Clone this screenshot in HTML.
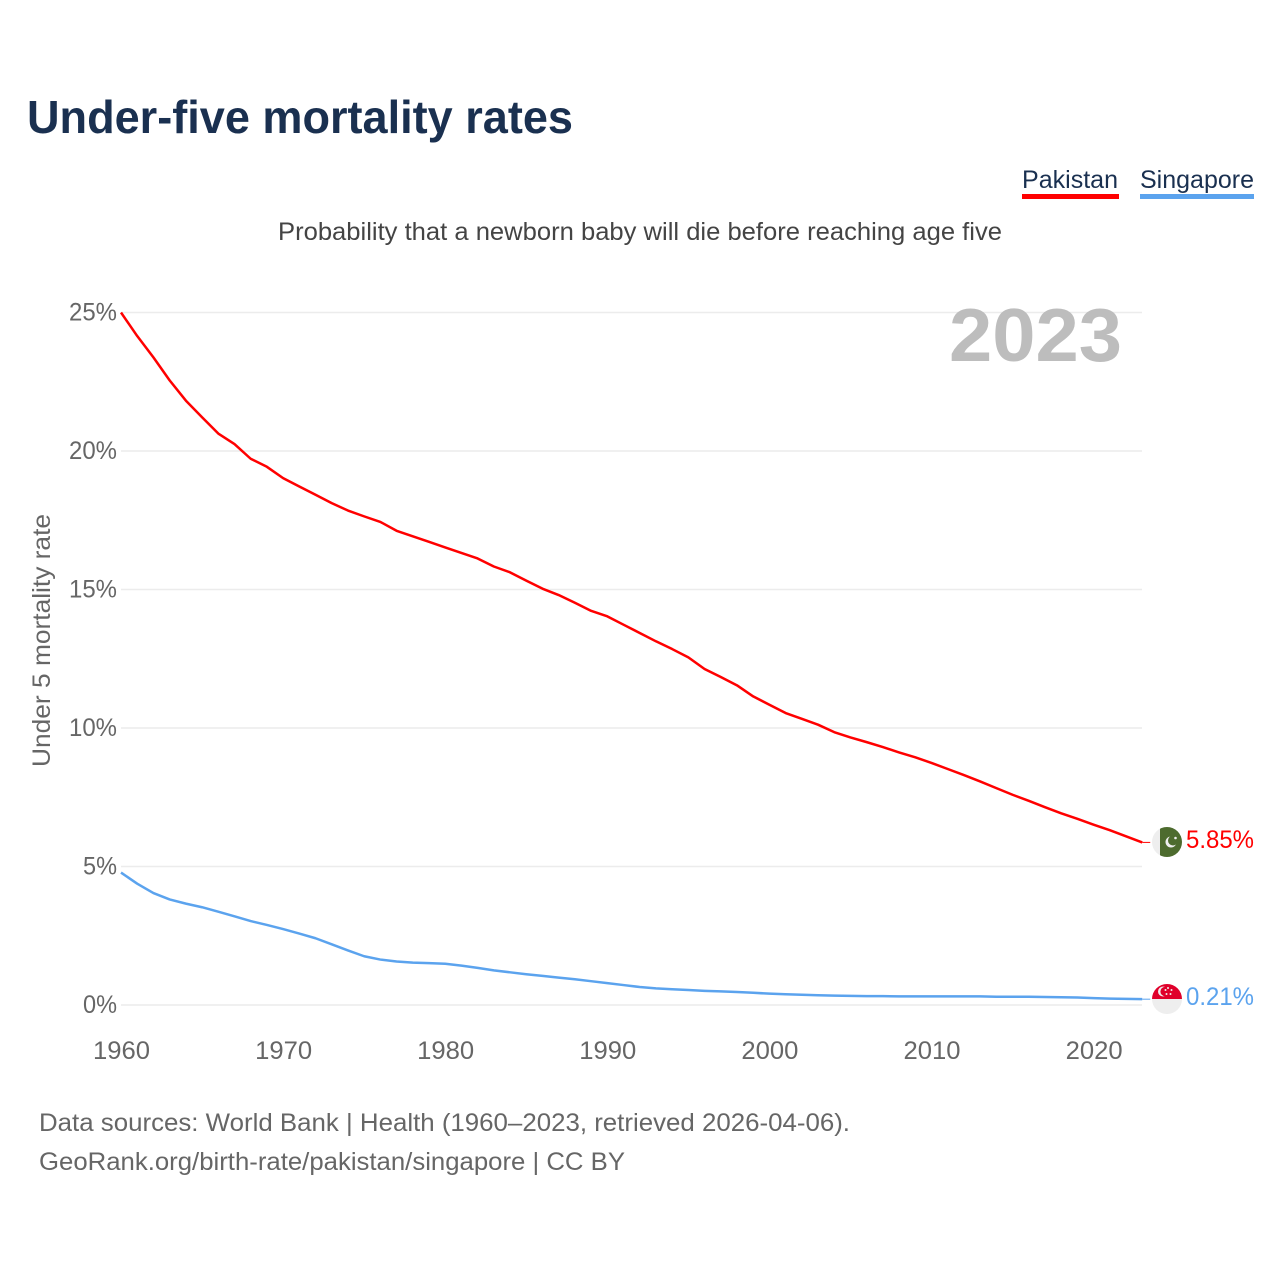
<!DOCTYPE html>
<html lang="en">
<head>
<meta charset="utf-8">
<title>Under-five mortality rates</title>
<style>
html,body{margin:0;padding:0;background:#fff;width:1280px;height:1280px;overflow:hidden}
svg{display:block;font-family:"Liberation Sans",sans-serif}
</style>
</head>
<body>
<svg id="chart" width="1280" height="1280" viewBox="0 0 1280 1280" xmlns="http://www.w3.org/2000/svg">
  <rect x="0" y="0" width="1280" height="1280" fill="#fff"/>
  <text x="27" y="133" font-size="46" font-weight="700" fill="#1a3050" textLength="546" lengthAdjust="spacingAndGlyphs">Under-five mortality rates</text>
  <g>
    <text x="1022" y="188" font-size="25" fill="#1a3050" textLength="96" lengthAdjust="spacingAndGlyphs">Pakistan</text>
    <rect x="1022" y="194" width="97" height="5" fill="#ff0000"/>
  </g>
  <g>
    <text x="1140" y="188" font-size="25" fill="#1a3050" textLength="114" lengthAdjust="spacingAndGlyphs">Singapore</text>
    <rect x="1140" y="194" width="114" height="5" fill="#5ba3ee"/>
  </g>
  <text x="278" y="240" font-size="25" fill="#444" textLength="724" lengthAdjust="spacingAndGlyphs">Probability that a newborn baby will die before reaching age five</text>
  <g id="grid"></g>
  <text x="949" y="361" font-size="75" font-weight="700" fill="#bdbdbd" textLength="173" lengthAdjust="spacingAndGlyphs">2023</text>
  <text transform="translate(50,640.5) rotate(-90)" text-anchor="middle" font-size="25" fill="#666" textLength="253" lengthAdjust="spacingAndGlyphs">Under 5 mortality rate</text>
  <g id="yticks"></g>
  <g id="xticks"></g>
  <g id="series"></g>

  <g>
    <clipPath id="clip-pk"><circle cx="1167" cy="842" r="15"/></clipPath>
    <g clip-path="url(#clip-pk)">
      <rect x="1152" y="827" width="8" height="30" fill="#eeeeee"/>
      <rect x="1160" y="827" width="22" height="30" fill="#4d6b2e"/>
      <circle cx="1171" cy="842" r="5.5" fill="#eeeeee"/>
      <circle cx="1173" cy="840.5" r="5" fill="#4d6b2e"/>
      <circle cx="1175.5" cy="838" r="1.3" fill="#eeeeee"/>
    </g>
  </g>
  <g>
    <clipPath id="clip-sg"><circle cx="1167" cy="999" r="15"/></clipPath>
    <g clip-path="url(#clip-sg)">
      <rect x="1152" y="984" width="30" height="15" fill="#e0002b"/>
      <rect x="1152" y="999" width="30" height="15" fill="#eeeeee"/>
      <circle cx="1163" cy="991.5" r="5" fill="#eeeeee"/>
      <circle cx="1165" cy="991.5" r="4.6" fill="#e0002b"/>
      <circle cx="1168" cy="988" r="1" fill="#eeeeee"/>
      <circle cx="1171.5" cy="990" r="1" fill="#eeeeee"/>
      <circle cx="1170.5" cy="994" r="1" fill="#eeeeee"/>
      <circle cx="1166.5" cy="994" r="1" fill="#eeeeee"/>
      <circle cx="1165.5" cy="990" r="1" fill="#eeeeee"/>
    </g>
  </g>
  <text x="1186" y="848" font-size="25" fill="#ff0000" textLength="68" lengthAdjust="spacingAndGlyphs">5.85%</text>
  <text x="1186" y="1005" font-size="25" fill="#5ba3ee" textLength="68" lengthAdjust="spacingAndGlyphs">0.21%</text>

  <text x="39" y="1131" font-size="25" fill="#666" textLength="811" lengthAdjust="spacingAndGlyphs">Data sources: World Bank | Health (1960–2023, retrieved 2026-04-06).</text>
  <text x="39" y="1170" font-size="25" fill="#666" textLength="586" lengthAdjust="spacingAndGlyphs">GeoRank.org/birth-rate/pakistan/singapore | CC BY</text>
</svg>
<script>
const startYear = 1960;
const pakistanValues = [25.0,24.15,23.38,22.55,21.82,21.22,20.63,20.25,19.72,19.43,19.02,18.72,18.42,18.12,17.85,17.64,17.44,17.12,16.92,16.72,16.52,16.32,16.12,15.83,15.62,15.32,15.03,14.8,14.52,14.23,14.03,13.73,13.43,13.13,12.85,12.55,12.13,11.84,11.54,11.14,10.84,10.54,10.33,10.12,9.85,9.66,9.49,9.31,9.12,8.94,8.74,8.52,8.3,8.07,7.83,7.59,7.37,7.14,6.92,6.72,6.51,6.31,6.09,5.87];
const singaporeValues = [4.78,4.38,4.04,3.81,3.66,3.53,3.37,3.2,3.03,2.89,2.74,2.58,2.41,2.19,1.97,1.76,1.64,1.57,1.53,1.51,1.49,1.42,1.34,1.25,1.18,1.11,1.05,0.99,0.93,0.86,0.79,0.72,0.65,0.60,0.57,0.54,0.51,0.49,0.47,0.44,0.41,0.39,0.37,0.35,0.34,0.33,0.32,0.32,0.31,0.31,0.31,0.31,0.31,0.31,0.30,0.30,0.30,0.29,0.28,0.27,0.25,0.23,0.22,0.21];
const yTickValues = [0,5,10,15,20,25];
const yTickLabels = ["0%","5%","10%","15%","20%","25%"];
const xTickValues = [1960,1970,1980,1990,2000,2010,2020];

const NS = "http://www.w3.org/2000/svg";
function xScale(year){ return 121 + (year - 1960) * 16.21; }
function yScale(v){ return 1005 - v * 27.7; }
function make(tag, parent, attrs){
  const el = document.createElementNS(NS, tag);
  for (const k in attrs) el.setAttribute(k, attrs[k]);
  parent.appendChild(el);
  return el;
}

const grid = document.getElementById("grid");
const yticks = document.getElementById("yticks");
yTickValues.forEach(function(v, i){
  const line = make("line", grid, {x1:121, x2:1142, y1:yScale(v), y2:yScale(v), stroke:"#ececec", "stroke-width":1.5});
  
  
  const label = make("text", yticks, {x:117, y:yScale(v)+8, "text-anchor":"end", "font-size":25, fill:"#666"});
  
  
  label.setAttribute('textLength', yTickLabels[i].length === 2 ? 34 : 48);
  label.setAttribute('lengthAdjust', 'spacingAndGlyphs');
  label.textContent = yTickLabels[i];
});

const xticks = document.getElementById("xticks");
xTickValues.forEach(function(year){
  const label = make("text", xticks, {x:xScale(year)+0.5, y:1059, "text-anchor":"middle", "font-size":25, fill:"#666"});
  
  
  label.setAttribute('textLength', 57);
  label.setAttribute('lengthAdjust', 'spacingAndGlyphs');
  label.textContent = year;
});

const seriesGroup = document.getElementById("series");
function linePath(values){
  return values.map(function(v, i){
    return (i ? "L" : "M") + xScale(startYear + i).toFixed(2) + " " + yScale(v).toFixed(2);
  }).join(" ");
}
function connector(values, color){
  const lastY = yScale(values[values.length - 1]);
  const lastX = xScale(startYear + values.length - 1);
  const c = make("line", seriesGroup, {x1:lastX, x2:lastX + 8, y1:lastY, y2:lastY, stroke:color, "stroke-width":1});
  
  
}
const pkLine = make("path", seriesGroup, {d:linePath(pakistanValues), fill:"none", stroke:"#ff0000", "stroke-width":2.5, "stroke-linejoin":"round"});


connector(pakistanValues, "#ff0000");
const sgLine = make("path", seriesGroup, {d:linePath(singaporeValues), fill:"none", stroke:"#5ba3ee", "stroke-width":2.5, "stroke-linejoin":"round"});


connector(singaporeValues, "#5ba3ee");
</script>
</body>
</html>
